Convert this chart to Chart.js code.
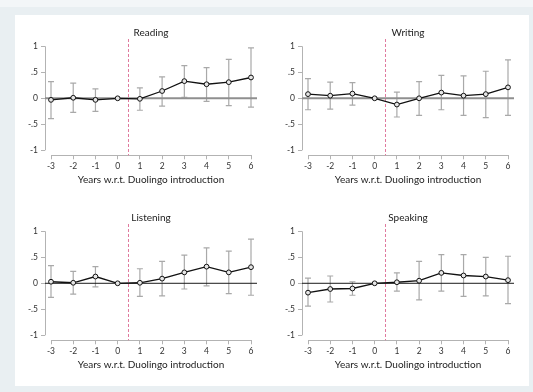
<!DOCTYPE html>
<html><head><meta charset="utf-8">
<script src="https://cdn.jsdelivr.net/npm/chart.js@4/dist/chart.umd.min.js"></script>
<style>
html,body{margin:0;padding:0;}
body{width:533px;height:392px;background:#e9eff2;position:relative;overflow:hidden;}
#topstrip{position:absolute;left:0;top:0;width:533px;height:7px;background:#f3f6f8;}
#panel{position:absolute;left:15px;top:15px;width:514px;height:371px;background:#ffffff;}
canvas{position:absolute;}
</style></head><body>
<div id="topstrip"></div><div id="panel"></div>
<canvas id="c0"></canvas><canvas id="c1"></canvas><canvas id="c2"></canvas><canvas id="c3"></canvas>
<script>
// ---- data ----
const years = [-3,-2,-1,0,1,2,3,4,5,6];
const xTicks = [-3,-2,-1,0,1,2,3,4,5,6];
const yTicks = [-1,-0.5,0,0.5,1];
const yTickLabels = ['-1','-.5','0','.5','1'];
const titles = ['Reading','Writing','Listening','Speaking'];
const xTitle = 'Years w.r.t. Duolingo introduction';
const introYear = 0.5;

const readingEst = [-0.03,0.01,-0.03,0,-0.01,0.14,0.33,0.27,0.31,0.40];
const readingLo  = [-0.39,-0.27,-0.25,null,-0.23,-0.15,0.02,-0.06,-0.14,-0.17];
const readingHi  = [0.32,0.29,0.18,null,0.20,0.41,0.63,0.59,0.75,0.97];

const writingEst = [0.08,0.05,0.09,0,-0.12,0.00,0.11,0.05,0.08,0.21];
const writingLo  = [-0.22,-0.21,-0.13,null,-0.36,-0.33,-0.22,-0.33,-0.37,-0.33];
const writingHi  = [0.38,0.31,0.30,null,0.12,0.32,0.44,0.43,0.52,0.74];

const listeningEst = [0.03,0.01,0.13,0,0.01,0.09,0.21,0.32,0.21,0.31];
const listeningLo  = [-0.27,-0.21,-0.07,null,-0.25,-0.24,-0.11,-0.05,-0.20,-0.23];
const listeningHi  = [0.34,0.23,0.32,null,0.28,0.42,0.54,0.68,0.62,0.85];

const speakingEst = [-0.18,-0.11,-0.10,0,0.02,0.05,0.20,0.15,0.13,0.06];
const speakingLo  = [-0.44,-0.36,-0.23,null,-0.15,-0.32,-0.15,-0.25,-0.24,-0.39];
const speakingHi  = [0.10,0.14,0.03,null,0.20,0.42,0.55,0.55,0.50,0.52];

// ---- build ----
const FONT = 'Lato, "Open Sans", sans-serif';
const series = [
  {est: readingEst, lo: readingLo, hi: readingHi},
  {est: writingEst, lo: writingLo, hi: writingHi},
  {est: listeningEst, lo: listeningLo, hi: listeningHi},
  {est: speakingEst, lo: speakingLo, hi: speakingHi}
];
const frames = [
  {L:0, T:27, zeroColor:'#8f8f8f', zeroWidth:2},
  {L:257, T:27, zeroColor:'#8f8f8f', zeroWidth:2},
  {L:0, T:212, zeroColor:'#1a1a1a', zeroWidth:1},
  {L:257, T:212, zeroColor:'#1a1a1a', zeroWidth:1}
];
const W = 262, H = 159;

const decor = {
  id: 'decor',
  beforeDatasetsDraw(chart, args, o) {
    const {ctx, chartArea: a, scales: {x, y}} = chart;
    ctx.save();
    // axis lines (y: -1..1, x: -3..6)
    ctx.strokeStyle = '#b3b3b3';
    ctx.lineWidth = 1;
    ctx.beginPath();
    const ax = Math.round(a.left - 0.5) + 0.5;
    ctx.moveTo(ax, y.getPixelForValue(yTicks[yTicks.length-1]));
    ctx.lineTo(ax, y.getPixelForValue(yTicks[0]));
    const ay = Math.round(a.bottom - 0.5) + 0.5;
    ctx.moveTo(x.getPixelForValue(xTicks[0]), ay);
    ctx.lineTo(x.getPixelForValue(xTicks[xTicks.length-1]), ay);
    ctx.stroke();
    // error bars
    ctx.strokeStyle = '#a9a9a9';
    ctx.lineWidth = 1.2;
    ctx.beginPath();
    o.lo.forEach((lo, i) => {
      if (lo === null) return;
      const px = x.getPixelForValue(years[i]);
      const p1 = y.getPixelForValue(lo), p2 = y.getPixelForValue(o.hi[i]);
      ctx.moveTo(px, p1); ctx.lineTo(px, p2);
      ctx.moveTo(px - 3, p1); ctx.lineTo(px + 3, p1);
      ctx.moveTo(px - 3, p2); ctx.lineTo(px + 3, p2);
    });
    ctx.stroke();
    // zero line
    ctx.strokeStyle = o.zeroColor;
    ctx.lineWidth = o.zeroWidth;
    ctx.beginPath();
    const zy = y.getPixelForValue(0);
    ctx.moveTo(a.left, zy); ctx.lineTo(a.right, zy);
    ctx.stroke();
    // intro line
    ctx.strokeStyle = '#e07a9e';
    ctx.lineWidth = 1;
    ctx.setLineDash([3, 2]);
    ctx.beginPath();
    const dx = Math.round(x.getPixelForValue(introYear) - 0.5) + 0.5;
    ctx.moveTo(dx, a.top); ctx.lineTo(dx, a.bottom);
    ctx.stroke();
    ctx.restore();
  }
};

frames.forEach((f, k) => {
  const cv = document.getElementById('c' + k);
  cv.width = W; cv.height = H;
  cv.style.left = f.L + 'px'; cv.style.top = f.T + 'px';
  cv.style.width = W + 'px'; cv.style.height = H + 'px';
  const s = series[k];
  new Chart(cv, {
    type: 'line',
    data: {
      datasets: [{
        data: years.map((yr, i) => ({x: yr, y: s.est[i]})),
        borderColor: '#111111',
        borderWidth: 1.3,
        pointRadius: 2.4,
        pointBorderWidth: 1,
        pointBorderColor: '#111111',
        pointBackgroundColor: '#e6e6e6',
        tension: 0,
        fill: false
      }]
    },
    options: {
      responsive: false,
      animation: false,
      devicePixelRatio: 1,
      layout: {padding: {left: 0, right: 0, top: 0, bottom: 0.2}},
      plugins: {
        legend: {display: false},
        tooltip: {enabled: false},
        title: {display: true, text: titles[k], fullSize: false, color: '#222',
                font: {family: FONT, size: 10, weight: 'normal'}, padding: 0},
        decor: {lo: s.lo, hi: s.hi, zeroColor: f.zeroColor, zeroWidth: f.zeroWidth}
      },
      scales: {
        x: {
          type: 'linear', min: -3.27, max: 6.27,
          afterBuildTicks: sc => { sc.ticks = xTicks.map(v => ({value: v})); },
          afterFit: sc => { sc.height = 30.5; },
          grid: {display: true, drawOnChartArea: false, drawTicks: true, tickLength: 4, color: '#b3b3b3'},
          border: {display: false},
          ticks: {padding: 2, color: '#333', autoSkip: false, maxRotation: 0,
                  font: {family: FONT, size: 8.5}, callback: v => String(v)},
          title: {display: true, text: xTitle, color: '#222', font: {family: FONT, size: 10}, padding: 0}
        },
        y: {
          type: 'linear', min: -1.096, max: 1.14,
          afterBuildTicks: sc => { sc.ticks = yTicks.map(v => ({value: v})); },
          afterFit: sc => { sc.width = 45; },
          grid: {display: true, drawOnChartArea: false, drawTicks: true, tickLength: 4, color: '#b3b3b3'},
          border: {display: false},
          ticks: {padding: 3, color: '#333', font: {family: FONT, size: 8.5},
                  callback: (v, i) => yTickLabels[i]}
        }
      }
    },
    plugins: [decor]
  });
});
</script>
</body></html>
